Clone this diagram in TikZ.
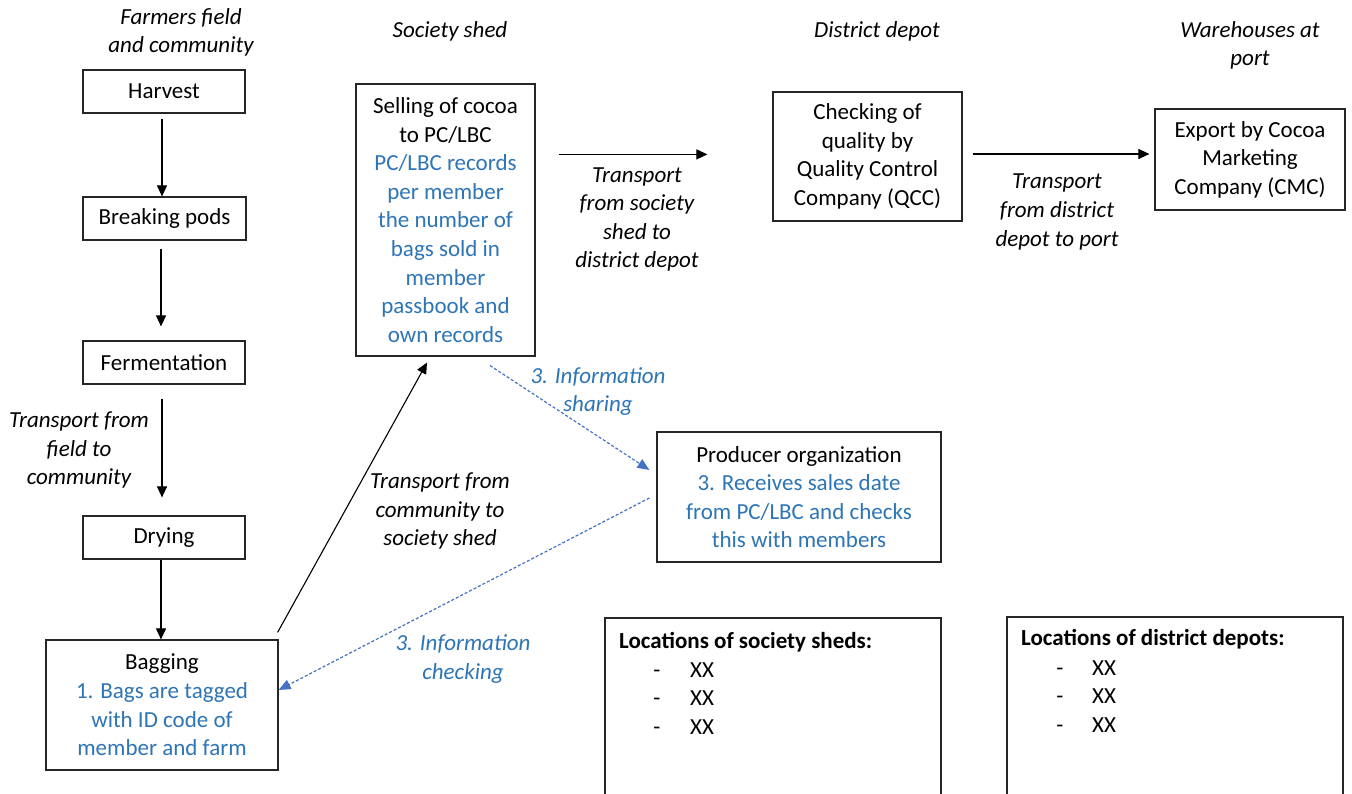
\documentclass[tikz,border=0pt]{standalone}
\usepackage{fontspec}
\setmainfont{Carlito}
\usetikzlibrary{arrows.meta,calc}
\definecolor{tblue}{HTML}{2E75B6}
\definecolor{ablue}{HTML}{4472C4}
\begin{document}
\begin{tikzpicture}[x=1pt,y=-1pt,
  every node/.style={font=\fontsize{23}{28.6}\selectfont, inner sep=0pt},
  box/.style={draw=black!85, line width=1.2pt, align=center},
  lbl/.style={align=center, font=\fontsize{23}{28.6}\selectfont\itshape},
  blbl/.style={lbl, text=tblue},
  plain/.style={align=left},
  arr/.style={-{Triangle[length=11pt,width=10pt]}, line width=1.1pt, draw=black},
  darr/.style={-{Triangle[length=12pt,width=10pt]}, draw=ablue, line width=1.2pt, dash pattern=on 3pt off 2pt},
]
\useasboundingbox (0,0) rectangle (1352,794);
\clip (0,0) rectangle (1352,794);
\fill[white] (0,0) rectangle (1352,794);

% column headers
\node[lbl] (hfarm) at (181,32.5) {Farmers field\\and community};
\node[lbl] (hshed) at (450,31) {Society shed};
\node[lbl] (hdepot) at (877,31) {District depot};
\node[lbl] (hport) at (1250,45.5) {Warehouses at\\port};

% process boxes
\node[box, minimum width=162, minimum height=43] (harvest) at (164,91.5) {Harvest};
\node[box, minimum width=163, minimum height=43] (breaking) at (164.5,218.5) {Breaking pods};
\node[box, minimum width=162, minimum height=43] (ferment) at (164,362.5) {Fermentation};
\node[box, minimum width=162, minimum height=43] (drying) at (164,537.5) {Drying};
\node[box, minimum width=232, minimum height=130] (bagging) at (162,705)
  {Bagging\\\color{tblue}1. Bags are tagged\\\color{tblue}with ID code of\\\color{tblue}member and farm};
\node[box, minimum width=179, minimum height=272] (selling) at (445.5,220)
  {Selling of cocoa\\to PC/LBC\\\color{tblue}PC/LBC records\\\color{tblue}per member\\\color{tblue}the number of\\\color{tblue}bags sold in\\\color{tblue}member\\\color{tblue}passbook and\\\color{tblue}own records};
\node[box, minimum width=189, minimum height=129] (qcc) at (867.5,156.5)
  {Checking of\\quality by\\Quality Control\\Company (QCC)};
\node[box, minimum width=190, minimum height=101] (cmc) at (1250,159.5)
  {Export by Cocoa\\Marketing\\Company (CMC)};
\node[box, minimum width=284, minimum height=130] (producer) at (799,497)
  {Producer organization\\\color{tblue}3. Receives sales date\\\color{tblue}from PC/LBC and checks\\\color{tblue}this with members};

% location boxes
\node[box, minimum width=336, minimum height=190] (locsheds) at (773,713) {};
\node[box, minimum width=336, minimum height=190] (locdepots) at (1175,712) {};
\node[plain, anchor=base west, font=\fontsize{23}{28.6}\selectfont\bfseries] (lsh) at (619,648) {Locations of society sheds:};
\node[plain, anchor=base] (lsd1) at (657,677) {-};
\node[plain, anchor=base west] (lsx1) at (690,677) {XX};
\node[plain, anchor=base] (lsd2) at (657,705) {-};
\node[plain, anchor=base west] (lsx2) at (690,705) {XX};
\node[plain, anchor=base] (lsd3) at (657,734) {-};
\node[plain, anchor=base west] (lsx3) at (690,734) {XX};
\node[plain, anchor=base west, font=\fontsize{23}{28.6}\selectfont\bfseries] (ldh) at (1021,645) {Locations of district depots:};
\node[plain, anchor=base] (ldd1) at (1060,675) {-};
\node[plain, anchor=base west] (ldx1) at (1092,675) {XX};
\node[plain, anchor=base] (ldd2) at (1060,703) {-};
\node[plain, anchor=base west] (ldx2) at (1092,703) {XX};
\node[plain, anchor=base] (ldd3) at (1060,732) {-};
\node[plain, anchor=base west] (ldx3) at (1092,732) {XX};

% labels
\node[lbl] (tfield) at (79,450) {Transport from\\field to\\community};
\node[lbl] (tcomm) at (440,511) {Transport from\\community to\\society shed};
\node[lbl] (tshed) at (637,219.5) {Transport\\from society\\shed to\\district depot};
\node[lbl] (tdepot) at (1057,212) {Transport\\from district\\depot to port};
\node[blbl] (ishare) at (598,391.5) {3. Information\\sharing};
\node[blbl] (icheck) at (463,659) {3. Information\\checking};

% connectors
\draw[arr] ($(harvest.south)+(-2,5)$) -- ($(breaking.north)+(-2.5,0)$);
\draw[arr] ($(breaking.south)+(-3.5,8)$) -- ($(ferment.north)+(-3,-14)$);
\draw[arr] ($(ferment.south)+(-2,14)$) -- ($(drying.north)+(-2,-18)$);
\draw[arr] ($(drying.south)+(-3,0)$) -- ($(bagging.north)+(-1,0)$);
\draw[arr] ($(bagging.north east)+(-1,-7)$) -- ($(selling.south)+(-18.5,6)$);
\draw[arr] ($(selling.north east)+(23,71)$) -- ($(qcc.north west)+(-65,63)$);
\draw[arr] ($(qcc.east)+(10,-2.5)$) -- ($(cmc.west)+(-5,-5.5)$);
\draw[darr] ($(selling.south)+(44.5,9)$) -- ($(producer.west)+(-7,-27)$);
\draw[darr] ($(producer.west)+(-7,1)$) -- ($(bagging.east)+(0,-15)$);
\end{tikzpicture}
\end{document}
